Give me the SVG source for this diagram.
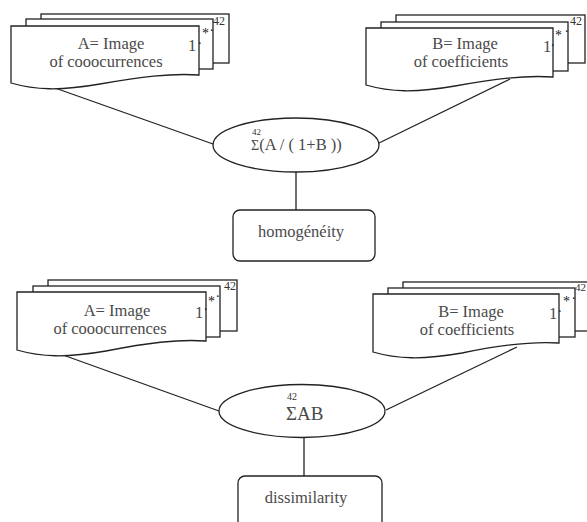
<svg xmlns="http://www.w3.org/2000/svg" width="587" height="522" viewBox="0 0 587 522">
<style>
.sh{fill:#fff;stroke:#222;stroke-width:1.3}
.ln{fill:none;stroke:#222;stroke-width:1.3}
.t{font-family:"Liberation Serif","Times New Roman",serif;font-size:16.5px;fill:#4a4a4a}
.c{text-anchor:middle}
.s{font-family:"Liberation Serif","Times New Roman",serif;font-size:12px;fill:#333}
.d{font-family:"Liberation Serif","Times New Roman",serif;font-size:14px;fill:#222}
</style>
<rect width="587" height="522" fill="#fff"/>
<g id="connectors">
<line class="ln" x1="55" y1="88" x2="213" y2="144"/>
<line class="ln" x1="510" y1="79" x2="379" y2="143"/>
<line class="ln" x1="296" y1="172" x2="296" y2="210"/>
<line class="ln" x1="63" y1="355" x2="219" y2="411"/>
<line class="ln" x1="517" y1="347" x2="386" y2="410"/>
<line class="ln" x1="304" y1="438" x2="304" y2="476"/>
</g>
<g id="docA1">
<rect class="sh" x="41" y="14" width="188" height="49"/>
<rect class="sh" x="26" y="19" width="187" height="50"/>
<path class="sh" d="M11,26 H199 V75 C170,73 140,77 100,84 C60,91 35,90 11,83 Z"/>
<text class="t c" x="111" y="49">A= Image</text>
<text class="t c" x="106" y="67">of cooocurrences</text>
<text class="t" x="188" y="51">1</text>
<text class="d" x="198" y="44">.</text>
<text class="d" x="202" y="38">*</text>
<text class="d" x="210" y="31">.</text>
<text class="s" x="213" y="25">42</text>
</g>
<g id="docB1">
<rect class="sh" x="396" y="15" width="189" height="48"/>
<rect class="sh" x="381" y="22" width="187" height="49"/>
<path class="sh" d="M366,28 H553 V77 C524,75 494,79 455,86 C415,93 390,92 366,85 Z"/>
<text class="t c" x="465" y="49">B= Image</text>
<text class="t c" x="461" y="67">of coefficients</text>
<text class="t" x="543" y="52">1</text>
<text class="d" x="551" y="46">.</text>
<text class="d" x="555" y="40">*</text>
<text class="d" x="565" y="32">.</text>
<text class="s" x="570" y="25">42</text>
</g>
<g id="sum1">
<ellipse class="sh" cx="296" cy="145" rx="83" ry="27"/>
<text class="t" x="251" y="150"><tspan style="font-size:14px">Σ</tspan>(A / ( 1+B ))</text>
<text class="s" x="252" y="135" style="font-size:9px">42</text>
</g>
<g id="homogeneity">
<rect class="sh" x="233" y="210" width="142" height="51" rx="7"/>
<text class="t c" x="301" y="237">homogénéity</text>
</g>
<g id="docA2">
<rect class="sh" x="48" y="280" width="189" height="51"/>
<rect class="sh" x="33" y="286" width="187" height="51"/>
<path class="sh" d="M17,292 H206 V341 C177,339 147,343 106,351 C66,358 41,357 17,350 Z"/>
<text class="t c" x="117" y="316">A= Image</text>
<text class="t c" x="110" y="334">of cooocurrences</text>
<text class="t" x="195" y="318">1</text>
<text class="d" x="204" y="310">.</text>
<text class="d" x="208" y="306">*</text>
<text class="d" x="216" y="297">.</text>
<text class="s" x="224" y="290">42</text>
</g>
<g id="docB2">
<rect class="sh" x="403" y="282" width="190" height="49"/>
<rect class="sh" x="388" y="288" width="187" height="49"/>
<path class="sh" d="M373,294 H559 V343 C530,341 500,345 462,353 C422,360 397,359 373,352 Z"/>
<text class="t c" x="471" y="317">B= Image</text>
<text class="t c" x="467" y="335">of coefficients</text>
<text class="t" x="549" y="319">1</text>
<text class="d" x="558" y="312">.</text>
<text class="d" x="563" y="306">*</text>
<text class="d" x="572" y="299">.</text>
<text class="s" x="575" y="291" style="font-size:11px">42</text>
</g>
<g id="sum2">
<ellipse class="sh" cx="302" cy="411" rx="83" ry="26.5"/>
<text class="t" x="286" y="420" style="font-size:19px">ΣAB</text>
<text class="s" x="287" y="400" style="font-size:10px">42</text>
</g>
<g id="dissimilarity">
<rect class="sh" x="238" y="476" width="144" height="60" rx="7"/>
<text class="t c" x="306" y="503">dissimilarity</text>
</g>
</svg>
